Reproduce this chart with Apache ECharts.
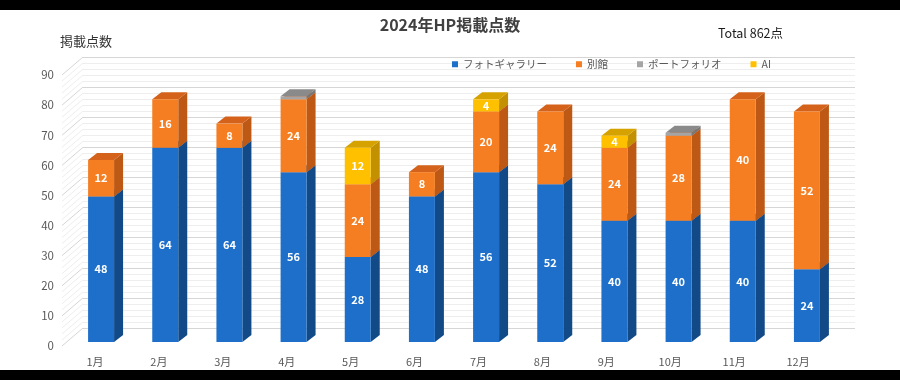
<!DOCTYPE html>
<html><head><meta charset="utf-8">
<script src="https://cdn.jsdelivr.net/npm/echarts@6/dist/echarts.min.js"></script>
<style>html,body{margin:0;padding:0;background:#fff}#c{width:900px;height:380px}</style>
</head><body><div id="c"></div>
<script>
// ---- data ----
const months = ['1月','2月','3月','4月','5月','6月','7月','8月','9月','10月','11月','12月'];
const seriesNames = ['フォトギャラリー','別館','ポートフォリオ','AI'];
const photo     = [48,64,64,56,28,48,56,52,40,40,40,24];
const annex     = [12,16, 8,24,24, 8,20,24,24,28,40,52];
const portfolio = [ 0, 0, 0, 1, 0, 0, 0, 0, 0, 1, 0, 0];
const ai        = [ 0, 0, 0, 0,12, 0, 4, 0, 4, 0, 0, 0];
const titleText = '2024年HP掲載点数';
const totalText = 'Total 862点';
const yAxisName = '掲載点数';
const yMax = 90;

// ---- styles ----
const FONT = '"Noto Sans CJK JP", "Noto Sans", sans-serif';
const faces = [
  {front:'#1E6FCA', side:'#114A86', top:'#185DAA'},
  {front:'#F57E22', side:'#BD5914', top:'#D5621A'},
  {front:'#A5A5A5', side:'#777777', top:'#8A8A8A'},
  {front:'#FFC000', side:'#C39100', top:'#D6A200'}
];
const DX = 9, DY = -7;

const all = [photo, annex, portfolio, ai];

function buildData(k){
  return months.map((m,i)=>{
    let base = 0;
    for(let j=0;j<k;j++) base += all[j][i];
    return [i, base, base + all[k][i], all[k][i]];
  });
}

function makeRender(k){
  const c = faces[k];
  return function(params, api){
    const i = api.value(0), base = api.value(1), top = api.value(2), v = api.value(3);
    if (!(v > 0)) return;
    const p0 = api.coord([i, base]);
    const p1 = api.coord([i, top]);
    const bw = api.size([1,0])[0] * 0.405;
    const L = p0[0] - bw/2, R = p0[0] + bw/2;
    const yb = p0[1], yt = p1[1];
    const children = [
      {type:'polygon', shape:{points:[[R,yb],[R+DX,yb+DY],[R+DX,yt+DY],[R,yt]]}, style:{fill:c.side}},
      {type:'polygon', shape:{points:[[L,yt],[R,yt],[R+DX,yt+DY],[L+DX,yt+DY]]}, style:{fill:c.top}},
      {type:'rect', shape:{x:L, y:yt, width:bw, height:yb-yt}, style:{fill:c.front}}
    ];
    if (k !== 2) {
      children.push({type:'text', style:{text:String(v), x:(L+R)/2, y:(yb+yt)/2, align:'center', verticalAlign:'middle',
        fill:'#ffffff', font:'bold 11px ' + FONT}});
    }
    return {type:'group', children};
  };
}

const series = seriesNames.map((name,k)=>({
  name, type:'custom', xAxisIndex:0, yAxisIndex:0,
  itemStyle:{color:faces[k].front},
  renderItem: makeRender(k),
  encode:{x:0, y:[1,2]},
  data: buildData(k),
  clip:false, silent:true, z:10
}));

// side-wall grid lines (decoration)
series.unshift({
  type:'custom', xAxisIndex:1, yAxisIndex:1, silent:true, z:1,
  data:[[0]],
  renderItem: function(params, api){
    const children = [];
    for (let v = 0; v <= yMax; v += 2) {
      const p = api.coord([0, v]);
      children.push({type:'line', shape:{x1:p[0]-21, y1:p[1]+18, x2:p[0], y2:p[1]},
        style:{stroke: v % 10 === 0 ? '#d6d6d6' : '#eeeeee', lineWidth:1}});
    }
    return {type:'group', children};
  }
});

const chart = echarts.init(document.getElementById('c'));
chart.setOption({
  animation:false,
  backgroundColor:'#ffffff',
  textStyle:{fontFamily:FONT},
  title:[
    {text:titleText, left:'center', top:17, padding:0, textStyle:{fontSize:16, fontWeight:'bold', color:'#404040', fontFamily:FONT}},
    {text:totalText, left:718, top:27, padding:0, textStyle:{fontSize:12.5, fontWeight:'normal', color:'#1a1a1a', fontFamily:FONT}},
    {text:yAxisName, left:60, top:35, padding:0, textStyle:{fontSize:13, fontWeight:'normal', color:'#333333', fontFamily:FONT}}
  ],
  legend:{
    data:seriesNames, left:452, top:59, padding:0, icon:'rect', itemWidth:6, itemHeight:6, itemGap:29,
    textStyle:{fontSize:10.5, color:'#595959', fontFamily:FONT}
  },
  graphic:[
    {type:'rect', shape:{x:0, y:0, width:900, height:10}, style:{fill:'#000'}, z:100},
    {type:'rect', shape:{x:0, y:370, width:900, height:10}, style:{fill:'#000'}, z:100}
  ],
  grid:[
    {left:69, right:61, top:69, bottom:38},
    {left:83, right:45, top:57, bottom:52},
    {left:63, right:70, top:75, bottom:34}
  ],
  xAxis:[
    {type:'category', gridIndex:0, data:months, show:false},
    {type:'value', gridIndex:1, min:0, max:1, show:false},
    {type:'category', gridIndex:2, data:months, axisLine:{show:false}, axisTick:{show:false}, splitLine:{show:false},
      axisLabel:{margin:10, fontSize:11, color:'#595959', fontFamily:FONT}}
  ],
  yAxis:[
    {type:'value', gridIndex:0, min:0, max:yMax, show:false},
    {type:'value', gridIndex:1, min:0, max:yMax, interval:10, axisLine:{show:false}, axisTick:{show:false}, axisLabel:{show:false},
      splitLine:{show:true, lineStyle:{color:'#d6d6d6'}},
      minorTick:{show:false, splitNumber:5},
      minorSplitLine:{show:true, lineStyle:{color:'#eeeeee'}}},
    {type:'value', gridIndex:2, min:0, max:yMax, interval:10, axisLine:{show:false}, axisTick:{show:false}, splitLine:{show:false},
      axisLabel:{margin:9, fontSize:11.5, color:'#595959', fontFamily:FONT}}
  ],
  series
});
</script>
</body></html>
